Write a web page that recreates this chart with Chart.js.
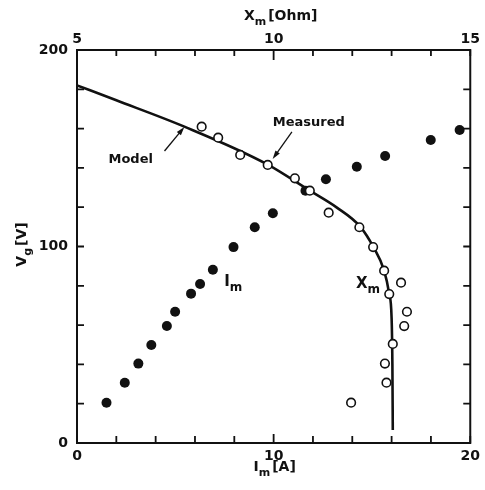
<!DOCTYPE html>
<html>
<head>
<meta charset="utf-8">
<script src="https://cdn.jsdelivr.net/npm/chart.js@4.4.1/dist/chart.umd.min.js"></script>
<style>
  html, body { margin: 0; padding: 0; background: #fff; }
  #wrap { width: 485px; height: 490px; }
</style>
</head>
<body>
<div id="wrap"><canvas id="vgChart" width="485" height="490"></canvas></div>
<script>
// magnetizing current I_m [A] vs generator voltage (filled dots, bottom axis)
const currentA = [1.50, 2.43, 3.12, 3.78, 4.57, 4.99, 5.80, 6.26, 6.91, 7.96, 9.04, 9.96, 11.62, 12.66, 14.23, 15.67, 17.99, 19.46];
const currentV = [20.5, 30.7, 40.4, 49.9, 59.5, 66.8, 76.0, 80.9, 88.2, 99.7, 109.8, 116.9, 128.4, 134.2, 140.6, 146.1, 154.2, 159.3];

// measured X_m [Ohm] vs voltage (open circles, top axis)
const measuredOhm = [8.17, 8.59, 9.15, 9.85, 10.54, 10.92, 11.40, 12.18, 12.53, 12.81, 12.94, 13.24, 13.39, 13.32, 13.03, 12.83, 12.87, 11.97];
const measuredV = [161.0, 155.4, 146.6, 141.5, 134.7, 128.4, 117.2, 109.8, 99.7, 87.7, 75.8, 81.6, 66.8, 59.5, 50.4, 40.4, 30.7, 20.5];

// model X_m curve
const modelOhm = [5.0, 6.0, 7.73, 9.84, 10.92, 11.6, 12.2, 12.54, 12.81, 12.94, 13.00, 13.02, 13.03];
const modelV = [182.0, 174.4, 161.0, 141.8, 128.4, 119.9, 110.1, 99.6, 87.7, 75.8, 63.5, 40.0, 6.6];

const yTicks = [0, 100, 200];
const xTicks = [0, 10, 20];
const x2Ticks = [5, 10, 15];

const ink = '#111';
const fontFam = "'DejaVu Sans', Arial, sans-serif";

function pairs(xs, ys) {
    return xs.map((x, i) => ({ x: x, y: ys[i] }));
}

function labelOnly(list) {
    return function (value) {
        return list.includes(value) ? String(value) : '';
    };
}

// frame and inward tick marks
const frameTicks = {
    id: 'frameTicks',
    afterDraw(chart) {
        const { ctx, chartArea: a, scales } = chart;
        ctx.save();
        ctx.strokeStyle = ink;
        ctx.lineWidth = 2;
        ctx.strokeRect(a.left, a.top, a.right - a.left, a.bottom - a.top);
        ctx.lineWidth = 1.8;
        ctx.beginPath();
        scales.y.ticks.forEach(t => {
            const py = scales.y.getPixelForValue(t.value);
            ctx.moveTo(a.left, py); ctx.lineTo(a.left + 7, py);
            ctx.moveTo(a.right, py); ctx.lineTo(a.right - 7, py);
        });
        scales.x.ticks.forEach(t => {
            const px = scales.x.getPixelForValue(t.value);
            const len = t.value === 10 ? 9 : 7;
            ctx.moveTo(px, a.bottom); ctx.lineTo(px, a.bottom - len);
        });
        scales.x2.ticks.forEach(t => {
            const px = scales.x2.getPixelForValue(t.value);
            const len = t.value === 10 ? 10 : 6;
            ctx.moveTo(px, a.top); ctx.lineTo(px, a.top + len);
        });
        ctx.stroke();
        ctx.restore();
    }
};

function subText(ctx, x, y, base, sub, rest, size) {
    ctx.font = 'bold ' + size + 'px ' + fontFam;
    const wb = ctx.measureText(base).width;
    const sf = 'bold ' + Math.round(size * 0.8) + 'px ' + fontFam;
    ctx.font = sf;
    const ws = ctx.measureText(sub).width;
    ctx.font = 'bold ' + size + 'px ' + fontFam;
    const wr = rest ? ctx.measureText(rest).width : 0;
    let sx = x - (wb + ws + wr + 2) / 2;
    ctx.textAlign = 'left';
    ctx.textBaseline = 'alphabetic';
    ctx.fillText(base, sx, y);
    ctx.font = sf;
    ctx.fillText(sub, sx + wb, y + size * 0.35);
    ctx.font = 'bold ' + size + 'px ' + fontFam;
    if (rest) ctx.fillText(rest, sx + wb + ws + 2, y);
}

function arrow(ctx, x1, y1, x2, y2) {
    const ang = Math.atan2(y2 - y1, x2 - x1);
    ctx.beginPath();
    ctx.moveTo(x1, y1);
    ctx.lineTo(x2 - 6 * Math.cos(ang), y2 - 6 * Math.sin(ang));
    ctx.stroke();
    ctx.beginPath();
    ctx.moveTo(x2, y2);
    ctx.lineTo(x2 - 9 * Math.cos(ang - 0.3), y2 - 9 * Math.sin(ang - 0.3));
    ctx.lineTo(x2 - 9 * Math.cos(ang + 0.3), y2 - 9 * Math.sin(ang + 0.3));
    ctx.closePath();
    ctx.fill();
}

// axis titles and callouts
const annotations = {
    id: 'annotations',
    afterDraw(chart) {
        const { ctx, chartArea: a, scales } = chart;
        const sx = v => scales.x.getPixelForValue(v);
        const sy = v => scales.y.getPixelForValue(v);
        ctx.save();
        ctx.fillStyle = ink;
        ctx.strokeStyle = ink;
        ctx.lineWidth = 1.3;

        subText(ctx, (a.left + a.right) / 2 + 7, 20, 'X', 'm', '[Ohm]', 14);
        subText(ctx, (a.left + a.right) / 2 + 1, 471, 'I', 'm', '[A]', 14);

        ctx.save();
        ctx.translate(26, (a.top + a.bottom) / 2 - 2);
        ctx.rotate(-Math.PI / 2);
        subText(ctx, 0, 0, 'V', 'g', '[V]', 14);
        ctx.restore();

        ctx.font = 'bold 13px ' + fontFam;
        ctx.textAlign = 'center';
        ctx.textBaseline = 'middle';
        ctx.fillText('Model', sx(2.73), sy(144));
        ctx.fillText('Measured', sx(11.79), sy(163));
        arrow(ctx, sx(4.45), sy(148.6), sx(5.46), sy(160.8));
        arrow(ctx, sx(10.93), sy(158.3), sx(9.95), sy(144.5));

        subText(ctx, sx(8.0), sy(80), 'I', 'm', '', 15);
        subText(ctx, sx(14.85), sy(79), 'X', 'm', '', 15);
        ctx.restore();
    }
};

const ctx = document.getElementById('vgChart').getContext('2d');

new Chart(ctx, {
    type: 'scatter',
    data: {
        datasets: [
            {
                label: 'Xm measured',
                data: pairs(measuredOhm, measuredV),
                xAxisID: 'x2',
                yAxisID: 'y',
                pointRadius: 4.3,
                pointBackgroundColor: '#fff',
                pointBorderColor: ink,
                pointBorderWidth: 1.6,
                order: 0
            },
            {
                label: 'Model',
                data: pairs(modelOhm, modelV),
                xAxisID: 'x2',
                yAxisID: 'y',
                showLine: true,
                borderColor: ink,
                borderWidth: 2.6,
                pointRadius: 0,
                cubicInterpolationMode: 'monotone',
                fill: false,
                order: 1
            },
            {
                label: 'Im',
                data: pairs(currentA, currentV),
                xAxisID: 'x',
                yAxisID: 'y',
                pointRadius: 5,
                pointBackgroundColor: ink,
                pointBorderColor: ink,
                pointBorderWidth: 0,
                order: 2
            }
        ]
    },
    options: {
        responsive: false,
        animation: false,
        devicePixelRatio: 1,
        layout: { padding: { left: 0, right: 12, top: 0, bottom: 0 } },
        plugins: {
            legend: { display: false },
            tooltip: { enabled: false }
        },
        scales: {
            x: {
                type: 'linear',
                position: 'bottom',
                min: 0,
                max: 20,
                grid: { display: false, drawTicks: false },
                border: { display: false },
                ticks: {
                    stepSize: 2,
                    color: ink,
                    padding: 5,
                    maxRotation: 0,
                    autoSkip: false,
                    font: { family: fontFam, size: 14, weight: 'bold' },
                    callback: labelOnly(xTicks)
                },
                afterFit(scale) { scale.height = 47; }
            },
            x2: {
                type: 'linear',
                position: 'top',
                min: 5,
                max: 15,
                grid: { display: false, drawTicks: false },
                border: { display: false },
                ticks: {
                    stepSize: 1,
                    color: ink,
                    padding: 2,
                    maxRotation: 0,
                    autoSkip: false,
                    font: { family: fontFam, size: 14, weight: 'bold' },
                    callback: labelOnly(x2Ticks)
                },
                afterFit(scale) { scale.height = 50; }
            },
            y: {
                type: 'linear',
                position: 'left',
                min: 0,
                max: 200,
                grid: { display: false, drawTicks: false },
                border: { display: false },
                ticks: {
                    stepSize: 20,
                    color: ink,
                    padding: 9,
                    autoSkip: false,
                    font: { family: fontFam, size: 14, weight: 'bold' },
                    callback: labelOnly(yTicks)
                },
                afterFit(scale) { scale.width = 77; }
            }
        }
    },
    plugins: [frameTicks, annotations]
});
</script>
</body>
</html>
